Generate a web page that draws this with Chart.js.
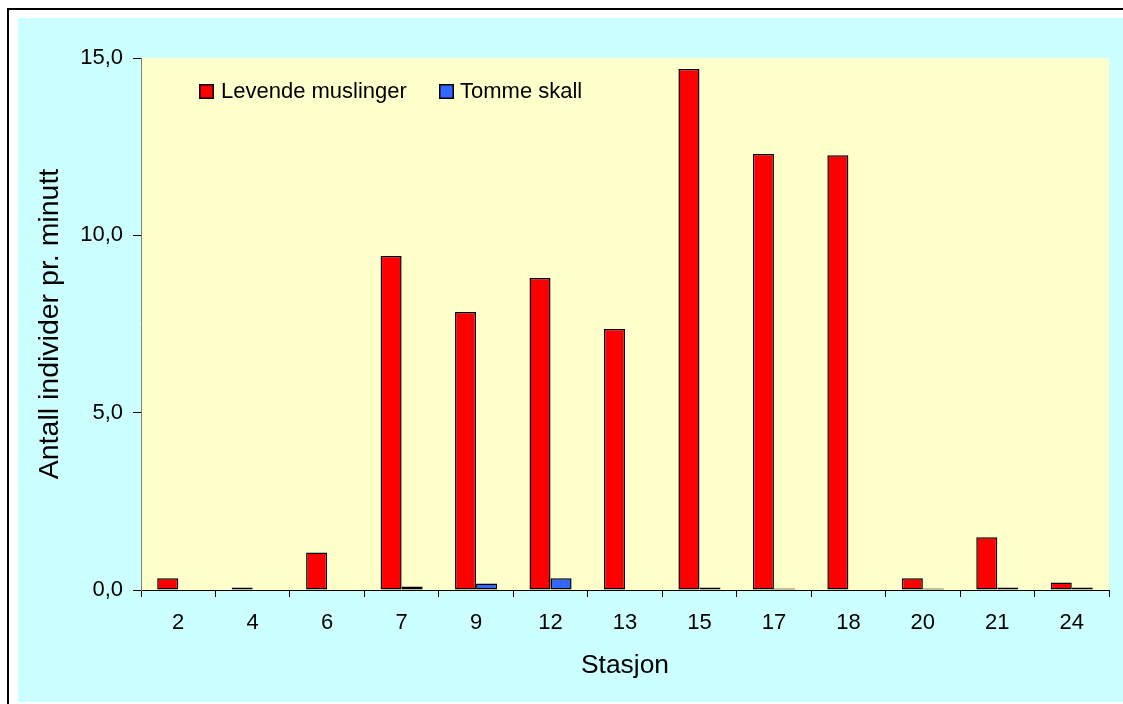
<!DOCTYPE html>
<html>
<head>
<meta charset="utf-8">
<script src="https://cdn.jsdelivr.net/npm/chart.js@4"></script>
<style>
    html, body { margin: 0; padding: 0; background: #ffffff; }
    #wrap { width: 1123px; height: 704px; }
</style>
</head>
<body>
<div id="wrap"><canvas id="chart" width="1123" height="704"></canvas></div>
<script>
// Stasjoner og verdier (antall individer pr. minutt)
const stations = ["2", "4", "6", "7", "9", "12", "13", "15", "17", "18", "20", "21", "24"];
const levende = [0.33, 0.07, 1.06, 9.42, 7.84, 8.80, 7.36, 14.69, 12.29, 12.26, 0.33, 1.49, 0.21];
const tomme = [0, 0, 0, 0.10, 0.18, 0.33, 0, 0.07, 0.04, 0, 0.04, 0.07, 0.07];
const yTicks = [0, 5, 10, 15];

Chart.defaults.font.family = "'Liberation Sans', Arial, sans-serif";
Chart.defaults.color = "#000000";

// background: white page, black frame, cyan chart area, yellow plot area
const backdrop = {
    id: "backdrop",
    beforeDraw(chart) {
        const ctx = chart.ctx;
        const w = chart.width, h = chart.height;
        const a = chart.chartArea;
        ctx.save();
        ctx.fillStyle = "#ffffff";
        ctx.fillRect(0, 0, w, h);
        ctx.fillStyle = "#000000";
        ctx.fillRect(7, 8, w - 7, 2);
        ctx.fillRect(7, 8, 2, h - 8);
        ctx.fillStyle = "#CCFFFF";
        ctx.fillRect(18, 18, w - 18, 702 - 18);
        ctx.fillStyle = "#FFFFCC";
        ctx.fillRect(a.left, a.top, a.right - a.left, a.bottom - a.top);
        ctx.restore();
    }
};

// legend drawn inside the plot area, like the original
const innerLegend = {
    id: "innerLegend",
    afterDraw(chart) {
        const ctx = chart.ctx;
        const spots = [{ box: 199, text: 221 }, { box: 439, text: 460 }];
        ctx.save();
        ctx.font = "22px 'Liberation Sans', Arial, sans-serif";
        ctx.textBaseline = "middle";
        chart.data.datasets.forEach(function (ds, i) {
            const s = spots[i];
            ctx.fillStyle = ds.backgroundColor;
            ctx.fillRect(s.box, 84, 15, 15);
            ctx.strokeStyle = "#000000";
            ctx.lineWidth = 1.5;
            ctx.strokeRect(s.box + 0.75, 84.75, 13.5, 13.5);
            ctx.fillStyle = "#000000";
            ctx.fillText(ds.label, s.text, 92);
        });
        ctx.restore();
    }
};

new Chart(document.getElementById("chart"), {
    type: "bar",
    data: {
        labels: stations,
        datasets: [
            {
                label: "Levende muslinger",
                data: levende,
                backgroundColor: "#FF0000",
                borderColor: "#000000",
                borderWidth: 1.5,
                borderSkipped: false
            },
            {
                label: "Tomme skall",
                data: tomme,
                backgroundColor: "#3366FF",
                borderColor: "#000000",
                borderWidth: 1.5,
                borderSkipped: false
            }
        ]
    },
    options: {
        responsive: false,
        devicePixelRatio: 1,
        animation: false,
        categoryPercentage: 0.565,
        barPercentage: 1.0,
        layout: {
            padding: { left: 18, top: 58, right: 14, bottom: 2 }
        },
        scales: {
            x: {
                grid: {
                    offset: true,
                    drawOnChartArea: false,
                    tickLength: 7,
                    color: "#000000"
                },
                border: { color: "#000000", width: 1 },
                ticks: {
                    padding: 13,
                    font: { size: 22 },
                    maxRotation: 0
                },
                title: {
                    display: true,
                    text: "Stasjon",
                    font: { size: 26.4 },
                    padding: { top: 0, bottom: 20 }
                },
                afterFit(scale) { scale.height = 112; }
            },
            y: {
                min: 0,
                max: 15,
                afterBuildTicks(scale) {
                    scale.ticks = yTicks.map(v => ({ value: v }));
                },
                grid: {
                    drawOnChartArea: false,
                    tickLength: 8,
                    color: "#000000"
                },
                border: { color: "#808080", width: 1 },
                ticks: {
                    padding: 10,
                    font: { size: 22 },
                    callback: v => v.toFixed(1).replace(".", ",")
                },
                title: {
                    display: true,
                    text: "Antall individer pr. minutt",
                    font: { size: 28.5 },
                    padding: { top: 15, bottom: 0 }
                },
                afterFit(scale) { scale.width = 123; }
            }
        },
        plugins: {
            legend: { display: false },
            tooltip: { enabled: false }
        }
    },
    plugins: [backdrop, innerLegend]
});
</script>
</body>
</html>
